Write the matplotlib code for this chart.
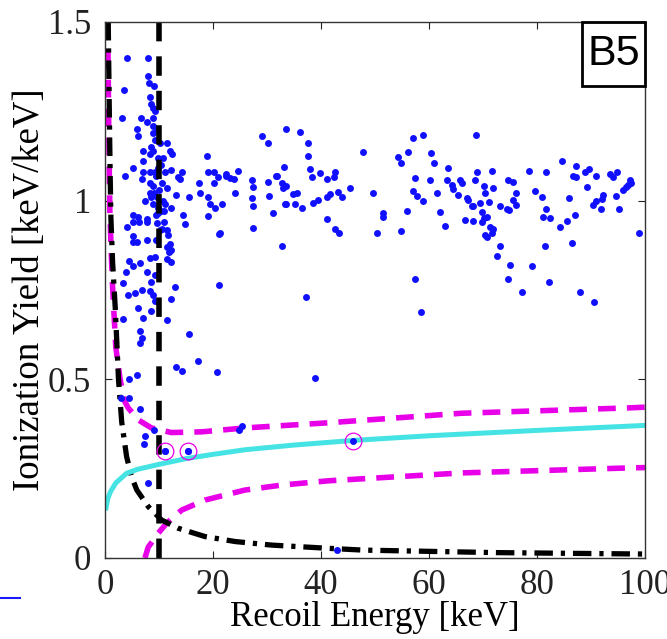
import matplotlib
matplotlib.use('Agg')
import matplotlib.pyplot as plt
from matplotlib.patches import Rectangle
from matplotlib.lines import Line2D

plt.rcParams['font.family'] = ['Liberation Serif', 'DejaVu Serif']

# recoil energy [keV] and ionization yield of the selected events
recoil_kev = [
    4.1, 7.9, 8.0, 8.1, 3.6, 8.3, 8.6, 8.8, 3.1, 6.6, 7.7, 8.8, 8.9, 6.2, 6.0, 8.9, 9.3, 11.4, 8.5, 7.1,
    12.0, 12.5, 8.9, 18.8, 8.3, 7.1, 5.2, 3.7, 7.0, 8.3, 9.3, 12.3, 14.2, 13.6, 13.9, 6.8, 19.1, 20.2, 21.0, 22.5,
    17.5, 20.1, 8.3, 8.9, 11.4, 17.6, 13.1, 8.3, 8.6, 7.4, 15.6, 19.1, 19.4, 20.4, 21.6, 8.9, 9.9, 11.1, 12.3, 5.2,
    6.2, 7.7, 9.9, 19.1,
    9.0, 9.2, 9.6, 10.2, 9.8, 10.4, 9.5, 10.6, 10.0, 9.6, 10.8, 10.3, 9.4, 11.0, 10.5, 10.8, 11.2, 9.1, 10.9, 9.9,
    29.1, 30.1, 33.6, 33.2, 24.7, 27.2, 30.2, 31.8, 32.7, 33.6, 34.9, 24.1, 27.2, 33.5,
    6.3, 4.1, 5.2, 7.7, 11.4, 11.7, 12.0, 11.4, 12.3, 11.9, 10.1, 9.7, 14.5, 14.8, 21.2, 5.2, 5.2, 6.0, 7.7, 9.4,
    4.5, 5.1, 6.4, 8.3, 9.3, 11.4, 12.2, 3.8, 7.7, 9.3, 3.3, 8.6, 13.0, 21.2, 4.3, 5.6, 6.8, 8.3, 8.9, 9.3,
    12.2, 6.2, 8.5, 3.4, 7.1, 11.5, 6.5, 6.8, 6.5, 15.6, 13.1, 14.2, 17.3, 20.7, 4.5, 5.9, 2.9, 4.4, 6.4,
    7.4, 7.3, 9.1, 7.9, 11.2, 15.4, 25.3, 24.8, 42.9,
    36.1, 37.6, 37.6, 38.0, 39.8, 42.6, 38.3, 41.1, 42.4, 45.4, 43.2, 43.8, 41.7, 41.1, 39.5, 38.6, 31.7, 30.4,
    31.2, 27.5, 27.4, 27.5, 22.5, 23.1, 23.8, 33.0, 35.5, 35.2, 36.4, 33.3, 41.1, 42.6, 43.4, 32.7, 21.3, 37.3, 38.9,
    47.8, 49.6, 51.5, 51.5, 50.3, 54.8, 55.9, 54.3, 54.8, 56.2, 57.0, 58.9, 60.3, 60.9, 57.4, 57.1, 57.8, 58.9,
    60.2, 61.5, 62.0, 63.0, 57.4, 58.6, 63.6, 63.3, 64.2, 64.5, 65.7, 66.1, 65.4, 67.0, 67.3, 67.9, 68.2, 66.7,
    68.2, 68.5, 68.8, 68.7, 70.2, 70.4, 69.4, 69.8, 70.1, 70.7, 69.9, 71.2, 71.3, 71.9, 70.4, 70.7, 71.6, 71.7,
    71.8, 73.1, 72.6, 73.1, 74.7, 75.5, 76.1, 75.6, 76.2, 74.4, 74.9, 75.0, 74.6, 77.2, 78.6, 79.0, 79.6, 81.0,
    81.6, 81.6, 81.2, 82.4, 81.5, 82.2, 84.6, 84.3, 85.5, 86.0, 86.4, 87.0, 86.6, 87.2, 87.3, 88.0, 88.9, 89.7,
    89.2, 91.0, 90.6, 90.4, 90.9, 91.8, 92.2, 92.0, 93.5, 94.1, 94.8, 94.6, 95.1, 96.0, 96.5, 96.9, 97.3, 97.5, 98.8,
]
yield_vals = [
    1.40, 1.40, 1.35, 1.33, 1.31, 1.29, 1.27, 1.26, 1.23, 1.23, 1.22, 1.23, 1.21, 1.18, 1.20, 1.19, 1.17, 1.16, 1.15, 1.14,
    1.14, 1.13, 1.14, 1.125, 1.13, 1.11, 1.09, 1.07, 1.08, 1.08, 1.08, 1.085, 1.08, 1.065, 1.06, 1.06, 1.08, 1.08, 1.065, 1.07,
    1.05, 1.05, 1.05, 1.04, 1.035, 1.02, 1.015, 1.02, 1.01, 1.00, 1.01, 1.01, 0.99, 0.98, 0.99, 0.99, 0.98, 0.99, 0.98, 0.96,
    0.955, 0.95, 0.965, 0.957,
    1.32, 1.25, 1.20, 1.16, 1.12, 1.10, 1.07, 1.05, 1.03, 1.01, 1.00, 0.97, 0.96, 0.94, 0.92, 1.12, 1.08, 1.02, 0.97, 1.09,
    1.18, 1.16, 1.20, 1.095, 1.083, 1.058, 1.053, 1.07, 1.05, 1.04, 1.018, 1.022, 1.007, 0.99,
    0.94, 0.925, 0.94, 0.94, 0.918, 0.904, 0.88, 0.87, 0.862, 0.855, 0.918, 0.937, 0.96, 0.935, 0.907, 0.90, 0.883, 0.885, 0.89, 0.89,
    0.83, 0.817, 0.825, 0.84, 0.843, 0.836, 0.827, 0.80, 0.80, 0.792, 0.77, 0.773, 0.758, 0.764, 0.736, 0.741, 0.75, 0.748, 0.736, 0.72,
    0.724, 0.699, 0.69, 0.668, 0.671, 0.666, 0.636, 0.615, 0.601, 0.627, 0.535, 0.524, 0.55, 0.52, 0.50, 0.512, 0.447, 0.447, 0.417,
    0.34, 0.32, 0.358, 0.209, 0.30, 0.30, 0.368, 0.358, 0.022,
    1.193, 1.162, 1.125, 1.088, 1.077, 1.081, 1.065, 1.06, 1.067, 1.035, 1.025, 1.011, 1.019, 1.011, 1.002, 0.993, 1.069, 1.013,
    0.966, 0.923, 0.985, 1.037, 1.075, 1.063, 1.06, 1.035, 1.02, 0.99, 0.979, 0.99, 0.948, 0.92, 0.91, 0.873, 0.909, 0.731, 0.505,
    1.137, 1.022, 0.965, 0.955, 0.909, 0.916, 0.972, 1.121, 1.106, 1.137, 1.175, 1.184, 1.133, 1.105, 1.063, 1.028, 1.013, 0.999,
    1.058, 1.021, 0.969, 0.929, 0.781, 0.689, 1.092, 1.058, 1.044, 1.032, 1.058, 1.05, 1.016, 1.007, 1.003, 0.986, 0.986, 0.946,
    0.944, 1.058, 1.081, 1.184, 1.041, 1.021, 0.993, 0.969, 0.951, 0.955, 0.941, 0.997, 0.926, 0.92, 0.904, 0.899, 0.909, 1.083,
    1.035, 0.873, 0.845, 0.985, 1.058, 1.053, 1.022, 1.002, 0.988, 0.976, 0.974, 0.82, 0.781, 0.745, 1.083, 0.817, 1.028, 1.01,
    1.081, 0.976, 0.955, 0.951, 0.873, 0.771, 1.111, 0.926, 0.944, 1.007, 0.881, 0.96, 1.069, 1.065, 1.097, 0.743, 1.081, 1.088,
    1.037, 1.069, 0.717, 0.988, 1.0, 0.976, 1.016, 1.004, 1.075, 1.067, 1.081, 1.013, 0.976, 1.03, 1.037, 1.044, 1.058, 1.049, 0.909,
]

# candidate events (circled)
cand_kev = [11.2, 15.4, 45.9]
cand_yield = [0.30, 0.30, 0.328]

# nuclear-recoil band centroid
centroid_kev = [0.2, 0.5, 1, 2, 4, 6, 10, 15, 20, 26, 35, 46, 60, 80, 100]
centroid_y = [0.14, 0.165, 0.185, 0.21, 0.237, 0.248, 0.262, 0.278, 0.29, 0.303, 0.316, 0.329, 0.342, 0.357, 0.371]

# nuclear-recoil band limits
nr_hi_kev = [0.5, 0.7, 0.9, 1.2, 1.4, 1.7, 2.0, 2.8, 3.6, 4.3, 6.2, 8.6, 12.3, 17.9, 26, 41, 66, 97, 100]
nr_hi_y = [1.5, 1.2, 0.97, 0.84, 0.76, 0.675, 0.59, 0.50, 0.44, 0.42, 0.386, 0.364, 0.351, 0.353, 0.364, 0.378, 0.405, 0.42, 0.422]
nr_lo_kev = [7.4, 8.0, 9.9, 11.4, 14.2, 18.5, 25.9, 32.7, 41.4, 66, 97, 100]
nr_lo_y = [0.0, 0.03, 0.07, 0.097, 0.134, 0.162, 0.19, 0.204, 0.216, 0.238, 0.252, 0.253]

# ionization threshold
thr_kev = [0.6, 0.8, 0.95, 1.1, 1.4, 1.9, 2.2, 2.5, 3.1, 4.0, 4.9, 5.9, 8.0, 10.5, 13.6, 18.5, 24.1, 30.9, 41.4, 47.8, 72.5, 100]
thr_y = [1.5, 1.25, 1.08, 0.95, 0.83, 0.7, 0.6, 0.5, 0.38, 0.284, 0.228, 0.19, 0.144, 0.106, 0.083, 0.06, 0.046, 0.036, 0.027, 0.022, 0.015, 0.011]

recoil_cut = 10.0

fig = plt.figure(figsize=(6.67, 6.39), dpi=100)
ax = fig.add_axes([0.1574, 0.1268, 0.8096, 0.8388])

ax.plot(nr_hi_kev, nr_hi_y, color='#e800e8', lw=4, ls=(0, (3.2, 2.0)))
ax.plot(nr_lo_kev, nr_lo_y, color='#e800e8', lw=4, ls=(0, (3.2, 2.0)))
ax.plot(thr_kev, thr_y, color='black', lw=3.8, ls=(0, (3.5, 1.5, 0.8, 1.5)))
ax.plot(centroid_kev, centroid_y, color='#45e3e3', lw=3.6)
ax.plot(recoil_kev, yield_vals, 'o', color='#1010ff', ms=5, mew=0)
ax.axvline(recoil_cut, color='black', lw=4, ls=(0, (3.5, 2.7)))
ax.plot(cand_kev, cand_yield, 'o', color='#1010ff', ms=5, mew=0)
ax.plot(cand_kev, cand_yield, 'o', mfc='none', mec='#e800e8', ms=12, mew=0.9)

ax.set_xlim(0, 100)
ax.set_ylim(0, 1.5)
ax.set_xticks([0, 20, 40, 60, 80, 100])
ax.set_yticks([0, 0.5, 1, 1.5])
ax.set_yticklabels(['0', '0.5', '1', '1.5'])
ax.tick_params(direction='in', length=5, width=0.8, top=True, right=True,
               labelsize=25, colors='#222222')
ax.tick_params(axis='y', pad=10)
ax.tick_params(axis='x', pad=8)
for s in ax.spines.values():
    s.set_linewidth(1.0)
    s.set_color('#333333')

ax.set_xlabel('Recoil Energy [keV]', fontsize=25)
ax.set_ylabel('Ionization Yield [keV/keV]', fontsize=26.5)
ax.xaxis.set_label_coords(0.5, -0.08)
ax.yaxis.set_label_coords(-0.108, 0.5)

# detector label box
ax.add_patch(Rectangle((0.883, 0.88), 0.117, 0.12, transform=ax.transAxes,
                       fill=False, ec='black', lw=2, clip_on=False, zorder=5))
ax.text(0.9415, 0.94, 'B5', transform=ax.transAxes, ha='center', va='center',
        fontsize=31, family='Liberation Sans', zorder=6)

# small blue stroke at the lower left edge
fig.add_artist(Line2D([0.0, 0.03], [0.064, 0.064], color='#1a1aff', lw=1.5))

fig.savefig('out.png', dpi=100)
